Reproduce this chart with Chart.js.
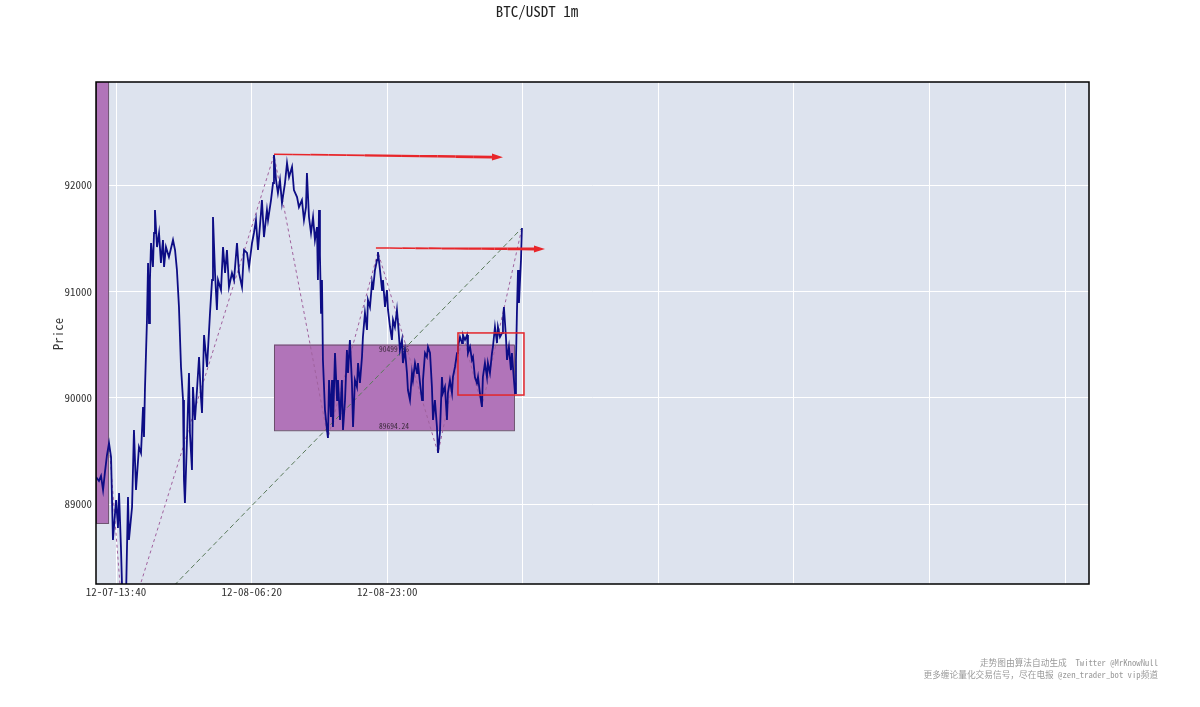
<!DOCTYPE html>
<html><head><meta charset="utf-8">
<script src="https://cdn.jsdelivr.net/npm/chart.js@4"></script>
<style>html,body{margin:0;padding:0;background:#fff;}#wrap{width:1200px;height:707px;position:relative}</style>
</head><body><div id="wrap"><canvas id="c" width="1200" height="707"></canvas></div>
<script>
const FONT = "'Noto Sans Mono CJK SC','Noto Sans CJK SC','DejaVu Sans Mono',monospace";
const chartTitle = 'BTC/USDT 1m';
const yAxisTitle = 'Price';
const footerLines = ['走势图由算法自动生成  Twitter @MrKnowNull', '更多缠论量化交易信号，尽在电报 @zen_trader_bot vip频道'];

// minutes since 12-07 11:12 (1m candles)
const minutes = [0,22,37,52,66,81,96,111,125,148,162,170,184,199,207,221,236,243,266,280,295,317,332,347,354,361,376,384,391,398,406,420,428,435,450,465,479,494,502,516,538,568,583,597,612,627,642,649,656,671,686,693,708,715,730,745,760,774,782,797,819,841,856,863,878,892,900,922,937,952,966,981,1003,1018,1040,1055,1077,1092,1114,1129,1151,1165,1180,1195,1217,1224,1239,1261,1269,1291,1306,1313,1328,1342,1357,1372,1394,1409,1424,1446,1460,1483,1497,1519,1534,1549,1556,1571,1586,1601,1615,1630,1637,1645,1652,1660,1667,1674,1689,1704,1711,1719,1733,1741,1748,1763,1778,1785,1800,1814,1822,1837,1851,1859,1873,1888,1896,1910,1925,1933,1947,1962,1969,1984,1999,2006,2021,2036,2043,2058,2073,2080,2095,2110,2117,2132,2146,2154,2169,2183,2191,2205,2220,2228,2242,2257,2264,2279,2294,2301,2316,2331,2338,2353,2368,2375,2390,2405,2412,2427,2441,2449,2464,2478,2486,2500,2515,2523,2537,2552,2559,2574,2589,2596,2611,2626,2633,2648,2663,2670,2685,2700,2707,2722,2737,2744,2759,2773,2781,2795,2810,2818,2832,2847,2854,2869,2884,2891,2906,2921,2928,2943,2958,2965,2980,2995,3002,3009,3024,3032,3046,3061,3068,3083,3091,3098,3105,3113,3120,3135,3142];
const prices = [89254,89217,89264,89132,89301,89461,89574,89442,88662,89038,88775,89104,88596,87910,87750,88098,89066,88662,88972,89696,89132,89536,89480,89913,89630,90072,90731,91267,90702,91107,91455,91229,91549,91765,91417,91549,91267,91483,91229,91417,91323,91483,91389,91201,90853,90289,89978,89226,89010,89602,90232,89668,89320,90101,89790,90072,90383,90007,89856,90590,90289,90797,91107,91699,91173,90825,91107,91013,91417,91173,91389,91041,91173,91107,91455,91173,91041,91389,91361,91229,91455,91549,91671,91389,91737,91859,91511,91765,91671,91859,92019,92282,92047,91925,92047,91831,92019,92207,92075,92170,91953,91887,91793,91859,91671,91793,92113,91699,91549,91699,91483,91605,91107,91765,91342,90797,91107,90355,89884,89696,89621,90166,89818,90166,89724,90420,89978,90166,89790,90166,89696,89978,90449,90232,90543,90138,89724,90166,90101,90326,90138,90383,90571,90797,90637,90919,90853,91079,91013,91201,91295,91370,91201,91013,91107,90853,91013,90825,90665,90543,90731,90665,90825,90702,90449,90543,90326,90449,90232,90072,89978,90232,90166,90326,90232,90326,90138,89978,90166,90420,90383,90477,90420,90101,89790,89978,89724,89480,89668,90195,90044,90101,89790,90044,90166,90044,90195,90289,90420,90477,90571,90514,90590,90543,90590,90420,90477,90355,90383,90195,90138,90195,90044,89913,90195,90326,90195,90326,90232,90420,90477,90665,90514,90665,90571,90608,90731,90853,90571,90355,90477,90260,90420,90166,90044,90355,90797,91201,90891,91295,91596];

// bi (strokes) and segment
const biMinutes = [96,207,1313,1711,2080,2523,2707,2847,3142];
const biPrices = [89574,87750,92282,89621,91370,89480,90590,89913,91596];
const segMinutes = [207,3142];
const segPrices = [87750,91596];

// pivot boxes
const boxStart = [0,1313];
const boxEnd = [89,3083];
const boxLow = [88822,89694.24];
const boxHigh = [93600,90499.36];
const boxLowLabel = ['','89694.24'];
const boxHighLabel = ['','90499.36'];

// red rectangle
const rectStart = [2670];
const rectEnd = [3157];
const rectLow = [90025];
const rectHigh = [90609];

// arrows
const arrowStartMin = [1313,2065];
const arrowStartPrice = [92290,91408];
const arrowEndMin = [3002,3312];
const arrowEndPrice = [92262,91398];

// axes
const xMin = 0, xMax = 7325;
const yMin = 88248, yMax = 92969;
const xTickPos = [148,1148,2148,3148,4148,5148,6148,7148];
const xTickLabels = ['12-07-13:40','12-08-06:20','12-08-23:00','','','','',''];
const yTickPos = [89000,90000,91000,92000];

const pts = (xs, ys) => xs.map((x,i)=>({x, y: ys[i]}));

const decor = {
  id:'decor',
  beforeDraw(chart){
    const {ctx, chartArea:a} = chart;
    ctx.save();
    ctx.fillStyle = '#dde3ee';
    ctx.fillRect(a.left, a.top, a.right-a.left, a.bottom-a.top);
    ctx.restore();
  },
  beforeDatasetsDraw(chart){
    const {ctx, chartArea:a, scales:{x,y}} = chart;
    ctx.save();
    ctx.beginPath(); ctx.rect(a.left, a.top, a.right-a.left, a.bottom-a.top); ctx.clip();
    for (let i=0;i<boxStart.length;i++){
      const x0=x.getPixelForValue(boxStart[i]), x1=x.getPixelForValue(boxEnd[i]);
      const y0=y.getPixelForValue(boxHigh[i]), y1=y.getPixelForValue(boxLow[i]);
      ctx.fillStyle = '#b174b9';
      ctx.fillRect(x0,y0,x1-x0,y1-y0);
      ctx.strokeStyle = '#6b4f6d';
      ctx.lineWidth = 1;
      ctx.strokeRect(x0+0.5,y0+0.5,x1-x0,y1-y0);
      ctx.fillStyle = '#3a2a3a';
      ctx.font = '7.5px ' + FONT;
      ctx.textAlign = 'center';
      const cx = (x0+x1)/2;
      if (boxHighLabel[i]) { ctx.textBaseline='top'; ctx.fillText(boxHighLabel[i], cx, y0+1); }
      if (boxLowLabel[i]) { ctx.textBaseline='bottom'; ctx.fillText(boxLowLabel[i], cx, y1); }
    }
    ctx.restore();
  },
  afterDatasetsDraw(chart){
    const {ctx, chartArea:a, scales:{x,y}} = chart;
    ctx.save();
    ctx.beginPath(); ctx.rect(a.left, a.top, a.right-a.left, a.bottom-a.top); ctx.clip();
    ctx.strokeStyle = '#e3262b'; ctx.lineWidth = 1.5;
    for (let i=0;i<rectStart.length;i++){
      const x0=x.getPixelForValue(rectStart[i]), x1=x.getPixelForValue(rectEnd[i]);
      const y0=y.getPixelForValue(rectHigh[i]), y1=y.getPixelForValue(rectLow[i]);
      ctx.strokeRect(x0,y0,x1-x0,y1-y0);
    }
    for (let i=0;i<arrowStartMin.length;i++){
      const x0=x.getPixelForValue(arrowStartMin[i]), y0=y.getPixelForValue(arrowStartPrice[i]);
      const x1=x.getPixelForValue(arrowEndMin[i]), y1=y.getPixelForValue(arrowEndPrice[i]);
      const ang = Math.atan2(y1-y0, x1-x0);
      const L = 11, W = 3.5;
      const bx = x1 - L*Math.cos(ang), by = y1 - L*Math.sin(ang);
      ctx.strokeStyle = '#e8262a'; ctx.fillStyle = '#e8262a';
      const N = 12;
      for (let k=0;k<N;k++){
        const t0=k/N, t1=(k+1)/N;
        ctx.lineWidth = 1.3 + 1.5*t1;
        ctx.beginPath();
        ctx.moveTo(x0+(bx-x0)*t0, y0+(by-y0)*t0);
        ctx.lineTo(x0+(bx-x0)*t1, y0+(by-y0)*t1);
        ctx.stroke();
      }
      ctx.beginPath();
      ctx.moveTo(x1,y1);
      ctx.lineTo(bx + W*Math.sin(ang), by - W*Math.cos(ang));
      ctx.lineTo(bx - W*Math.sin(ang), by + W*Math.cos(ang));
      ctx.closePath(); ctx.fill();
    }
    ctx.restore();
  },
  afterDraw(chart){
    const {ctx, chartArea:a} = chart;
    ctx.save();
    ctx.strokeStyle = '#000'; ctx.lineWidth = 1.5;
    ctx.strokeRect(a.left, a.top, a.right-a.left, a.bottom-a.top);
    ctx.fillStyle = '#222';
    ctx.font = '15px ' + FONT;
    ctx.textAlign = 'center'; ctx.textBaseline = 'middle';
    ctx.fillText(chartTitle, 537, 11);
    ctx.save();
    ctx.translate(58, 334); ctx.rotate(-Math.PI/2);
    ctx.font = '13px ' + FONT; ctx.fillStyle = '#333';
    ctx.fillText(yAxisTitle, 0, 0);
    ctx.restore();
    ctx.fillStyle = '#9a9a9a';
    ctx.font = '8.7px ' + FONT;
    ctx.textAlign = 'right';
    ctx.fillText(footerLines[0], 1158, 663);
    ctx.fillText(footerLines[1], 1158, 675);
    ctx.restore();
  }
};

new Chart(document.getElementById('c'), {
  type: 'line',
  data: {
    datasets: [
      { data: pts(minutes, prices), borderColor: '#0d0d85', borderWidth: 1.8, pointRadius: 0, tension: 0 },
      { data: pts(segMinutes, segPrices), borderColor: '#5a7a5a', borderWidth: 1, borderDash: [5,3], pointRadius: 0 },
      { data: pts(biMinutes, biPrices), borderColor: '#a0629e', borderWidth: 1, borderDash: [3,3], pointRadius: 0 }
    ]
  },
  options: {
    responsive: false, animation: false,
    layout: { padding: { left: 0, top: 82, right: 111, bottom: 93 } },
    plugins: { legend: { display: false }, tooltip: { enabled: false } },
    scales: {
      x: {
        type: 'linear', min: xMin, max: xMax,
        afterBuildTicks: s => { s.ticks = xTickPos.map(v => ({ value: v })); },
        afterFit: s => { s.height = 30; },
        ticks: { autoSkip: false, maxRotation: 0, padding: 1, color: '#333', font: { family: FONT, size: 11 },
          callback: (v) => { const i = xTickPos.indexOf(v); return i >= 0 ? xTickLabels[i] : ''; } },
        grid: { color: '#ffffff', lineWidth: 1, drawTicks: false },
        border: { display: false }
      },
      y: {
        min: yMin, max: yMax,
        afterBuildTicks: s => { s.ticks = yTickPos.map(v => ({ value: v })); },
        afterFit: s => { s.width = 96; },
        ticks: { padding: 4, color: '#333', font: { family: FONT, size: 11 }, callback: v => String(v) },
        grid: { color: '#ffffff', lineWidth: 1, drawTicks: false },
        border: { display: false }
      }
    }
  },
  plugins: [decor]
});
</script>
</body></html>
